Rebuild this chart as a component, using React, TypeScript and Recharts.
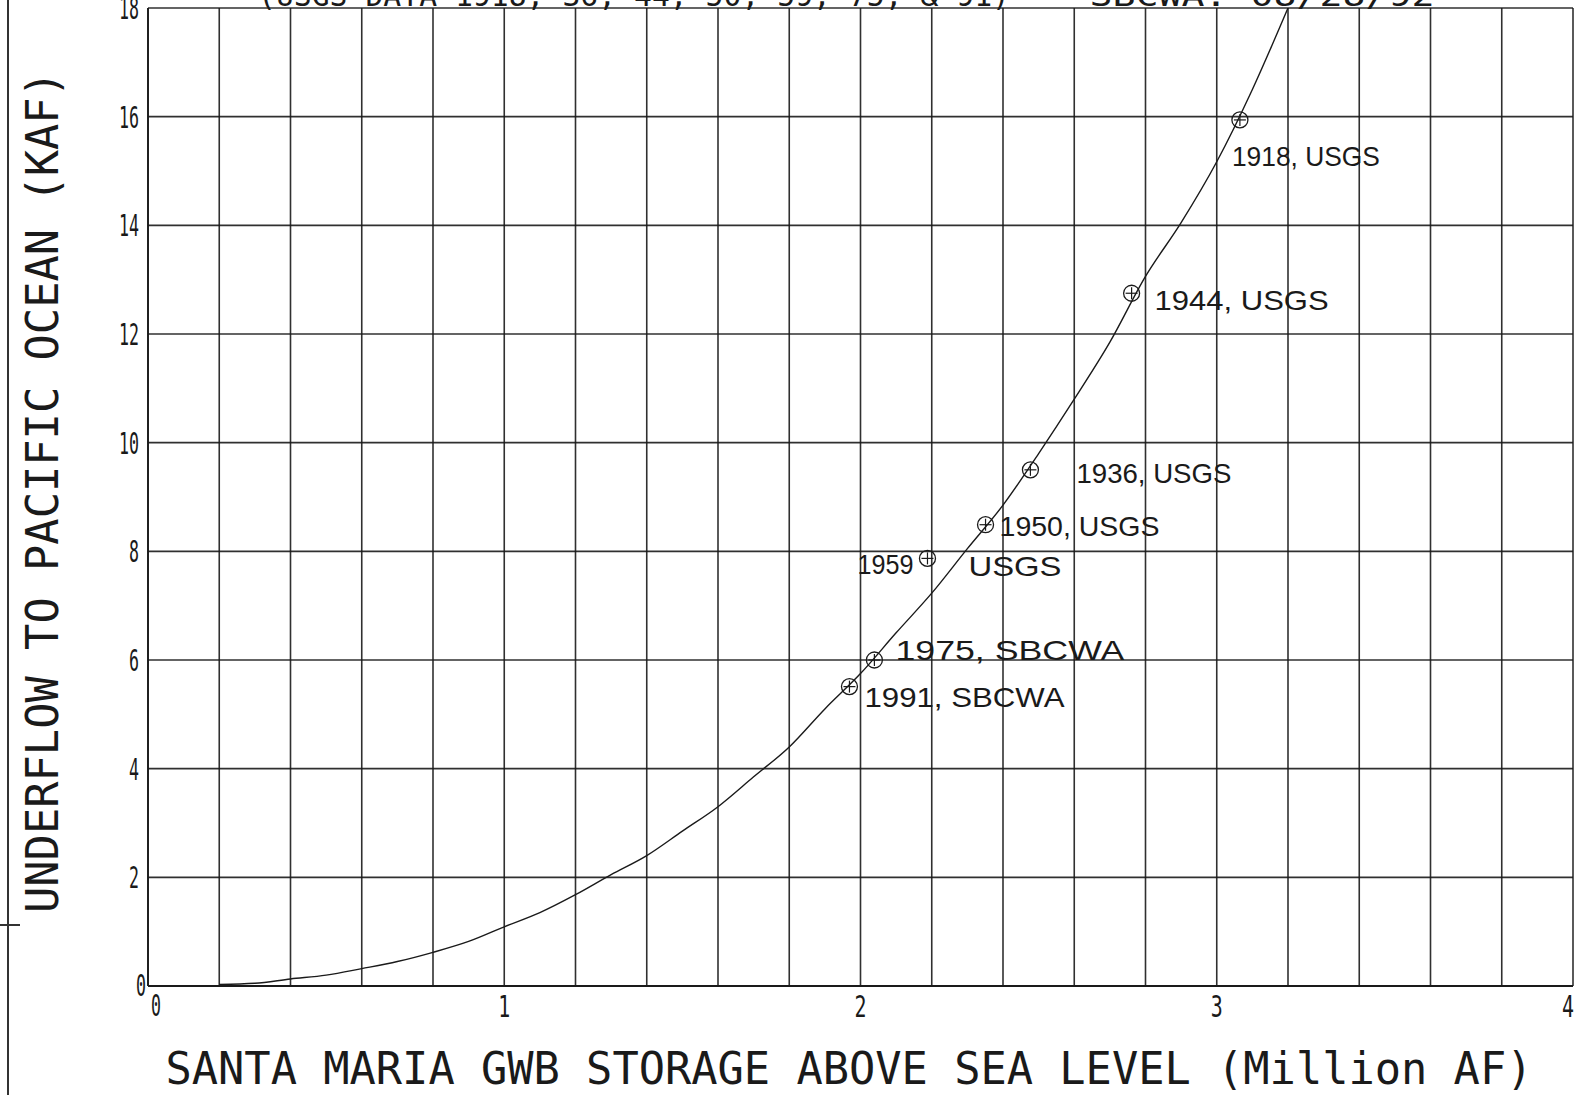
import React from 'react';
import { ComposedChart, Line, Scatter, XAxis, YAxis, CartesianGrid } from 'recharts';

// ---- data ----
const CURVE_X = [0.2, 0.3, 0.4, 0.5, 0.6, 0.7, 0.8, 0.9, 1.0, 1.1, 1.2, 1.3, 1.4, 1.5, 1.6, 1.7, 1.8, 1.9, 2.0, 2.1, 2.2, 2.3, 2.4, 2.5, 2.6, 2.7, 2.8, 2.9, 3.0, 3.1, 3.2];
const CURVE_Y = [0.03, 0.05, 0.13, 0.2, 0.32, 0.45, 0.62, 0.82, 1.09, 1.35, 1.68, 2.05, 2.4, 2.85, 3.3, 3.85, 4.4, 5.1, 5.75, 6.5, 7.23, 8.05, 8.85, 9.8, 10.8, 11.85, 13.06, 14.05, 15.17, 16.5, 18.0];

const OBS_YEARS = [1918, 1936, 1944, 1950, 1959, 1975, 1991];
const OBS_SOURCES = ['USGS', 'USGS', 'USGS', 'USGS', 'USGS', 'SBCWA', 'SBCWA'];
const OBS_X = [3.065, 2.477, 2.761, 2.351, 2.188, 2.039, 1.969];
const OBS_Y = [15.94, 9.5, 12.75, 8.49, 7.87, 6.0, 5.51];

const X_GRID_TICKS = [0, 0.2, 0.4, 0.6, 0.8, 1, 1.2, 1.4, 1.6, 1.8, 2, 2.2, 2.4, 2.6, 2.8, 3, 3.2, 3.4, 3.6, 3.8, 4];
const X_LABEL_VALUES = [0, 1, 2, 3, 4];
const Y_TICKS = [0, 2, 4, 6, 8, 10, 12, 14, 16, 18];

const TITLE_LEFT = '(USGS DATA 1918, 36, 44, 50, 59, 75, & 91)';
const TITLE_RIGHT = 'SBCWA: 08/28/92';
const X_TITLE = 'SANTA MARIA GWB STORAGE ABOVE SEA LEVEL (Million AF)';
const Y_TITLE = 'UNDERFLOW TO PACIFIC OCEAN (KAF)';

const curveData = CURVE_X.map((x, i) => ({ x, y: CURVE_Y[i] }));
const obsData = OBS_YEARS.map((year, i) => ({ year, source: OBS_SOURCES[i], x: OBS_X[i], y: OBS_Y[i] }));

// ---- layout / style ----
const W = 1581;
const H = 1095;
const FONT = '"DejaVu Sans Mono", "Liberation Mono", monospace';
const HAND = '"Liberation Sans", "DejaVu Sans", sans-serif';
const INK = '#1a1a1a';

// label placement relative to marker centre (pixels)
const LABEL_LAYOUT: Record<number, any> = {
  1918: { dx: -8, dy: 46, w: 148 },
  1936: { dx: 46, dy: 13, w: 155 },
  1944: { dx: 23, dy: 17, w: 174 },
  1950: { dx: 14, dy: 11, w: 160 },
  1959: { split: true, yearDx: -14, yearDy: 16, yearW: 56, srcDx: 41, srcDy: 18, srcW: 93 },
  1975: { dx: 21, dy: 0, w: 229 },
  1991: { dx: 15, dy: 20, w: 200 },
};

function PlotText({ x, y, text, width, size, anchor = 'start', family = FONT, transform }: any) {
  return (
    <text
      x={x}
      y={y}
      fontFamily={family}
      fontSize={size}
      fill={INK}
      textAnchor={anchor}
      textLength={width}
      lengthAdjust="spacingAndGlyphs"
      transform={transform}
    >
      {text}
    </text>
  );
}

function XTick(props: any) {
  const { x, y, payload } = props;
  const v = payload.value;
  if (!X_LABEL_VALUES.some((t) => Math.abs(t - v) < 1e-6)) return <g />;
  const label = String(Math.round(v));
  if (Math.abs(v) < 1e-6) {
    return <PlotText x={x + 3} y={y + 30} text={label} width={10} size={31} anchor="start" />;
  }
  if (Math.abs(v - 4) < 1e-6) {
    return <PlotText x={x + 1} y={y + 31} text={label} width={12} size={31} anchor="end" />;
  }
  return <PlotText x={x} y={y + 31} text={label} width={12} size={31} anchor="middle" />;
}

function YTick(props: any) {
  const { x, y, payload } = props;
  const v = payload.value;
  const label = String(v);
  const w = label.length * 10;
  if (v === 0) {
    return <PlotText x={x - 2} y={y + 10} text={label} width={10} size={31} anchor="end" />;
  }
  return <PlotText x={x - 9} y={y + 11} text={label} width={w} size={31} anchor="end" />;
}

function ObsMarker(props: any) {
  const { cx, cy, payload } = props;
  if (cx == null || cy == null) return <g />;
  const lay = LABEL_LAYOUT[payload.year] || { dx: 15, dy: 10, w: 150 };
  const r = 8;
  return (
    <g>
      <circle cx={cx} cy={cy} r={r} fill="none" stroke={INK} strokeWidth={1.3} />
      <line x1={cx - r + 2} y1={cy} x2={cx + r - 2} y2={cy} stroke={INK} strokeWidth={1.2} />
      <line x1={cx} y1={cy - r + 2} x2={cx} y2={cy + r - 2} stroke={INK} strokeWidth={1.2} />
      {lay.split ? (
        <g>
          <PlotText x={cx + lay.yearDx} y={cy + lay.yearDy} text={String(payload.year)} width={lay.yearW} size={28} anchor="end" family={HAND} />
          <PlotText x={cx + lay.srcDx} y={cy + lay.srcDy} text={payload.source} width={lay.srcW} size={28} anchor="start" family={HAND} />
        </g>
      ) : (
        <PlotText
          x={cx + lay.dx}
          y={cy + lay.dy}
          text={`${payload.year}, ${payload.source}`}
          width={lay.w}
          size={28}
          anchor="start"
          family={HAND}
        />
      )}
    </g>
  );
}

function XTitle() {
  return (
    <g>
      <PlotText x={849} y={1084} text={X_TITLE} width={1367} size={45} anchor="middle" />
      <PlotText x={634} y={6} text={TITLE_LEFT} width={752} size={30} anchor="middle" />
      <PlotText x={1262} y={6} text={TITLE_RIGHT} width={345} size={30} anchor="middle" />
    </g>
  );
}

function YTitle() {
  return (
    <PlotText
      x={58}
      y={492}
      text={Y_TITLE}
      width={842}
      size={45}
      anchor="middle"
      transform="rotate(-90, 58, 492)"
    />
  );
}

export default function App() {
  return (
    <div style={{ position: 'absolute', left: 0, top: 0, width: W, height: H, background: '#fff', overflow: 'hidden' }}>
      <div style={{ position: 'absolute', left: 7, top: 0, width: 2, height: H, background: '#333' }} />
      <div style={{ position: 'absolute', left: 0, top: 924, width: 20, height: 2, background: '#333' }} />
      <div style={{ position: 'absolute', left: 0, top: 0 }}>
        <ComposedChart width={W} height={H} margin={{ top: 8, right: 8, bottom: 79, left: 88 }}>
          <CartesianGrid stroke={INK} strokeWidth={1.6} strokeOpacity={0.9} />
          <XAxis
            type="number"
            dataKey="x"
            domain={[0, 4]}
            ticks={X_GRID_TICKS}
            interval={0}
            allowDataOverflow
            height={30}
            tickSize={0}
            tickMargin={0}
            tickLine={false}
            axisLine={{ stroke: INK, strokeWidth: 1.8 }}
            tick={<XTick />}
            label={{ content: () => <XTitle /> }}
          />
          <YAxis
            type="number"
            dataKey="y"
            domain={[0, 18]}
            ticks={Y_TICKS}
            interval={0}
            allowDataOverflow
            width={60}
            tickSize={0}
            tickMargin={0}
            tickLine={false}
            axisLine={{ stroke: INK, strokeWidth: 1.8 }}
            tick={<YTick />}
            label={{ content: () => <YTitle /> }}
          />
          <Line
            data={curveData}
            dataKey="y"
            type="monotone"
            stroke={INK}
            strokeWidth={1.4}
            dot={false}
            activeDot={false}
            isAnimationActive={false}
          />
          <Scatter data={obsData} dataKey="y" shape={<ObsMarker />} isAnimationActive={false} />
        </ComposedChart>
      </div>
    </div>
  );
}
